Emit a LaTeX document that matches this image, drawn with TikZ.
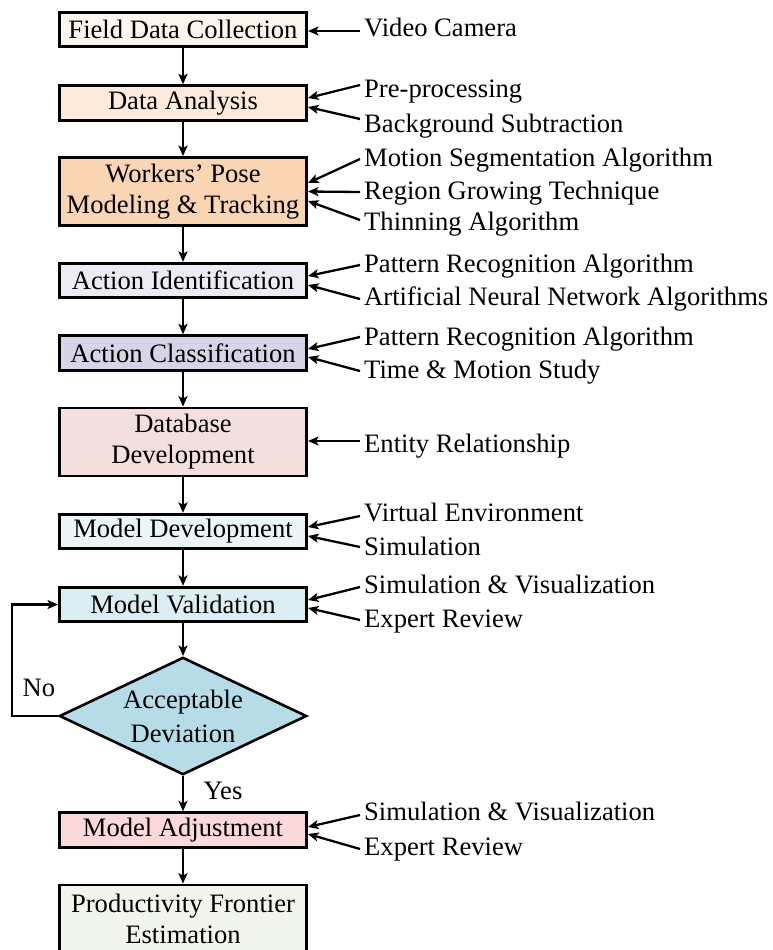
\documentclass[tikz,border=0pt]{standalone}
\usepackage{fontspec}
\setmainfont{Liberation Serif}
\usetikzlibrary{shapes.geometric,arrows.meta}
\newcommand\flowfont{\fontsize{26.6}{31}\selectfont}
\definecolor{cFDC}{HTML}{FDF4EC}
\definecolor{cDA}{HTML}{FDEADB}
\definecolor{cWPM}{HTML}{FAD5B4}
\definecolor{cAI}{HTML}{EEEAF3}
\definecolor{cAC}{HTML}{D8D3E6}
\definecolor{cDB}{HTML}{F3E0DE}
\definecolor{cMD}{HTML}{EBF5F8}
\definecolor{cMV}{HTML}{DBEEF3}
\definecolor{cDEV}{HTML}{B6DDE7}
\definecolor{cMA}{HTML}{FBD9D9}
\definecolor{cPF}{HTML}{F2F5EC}
\begin{document}
\begin{tikzpicture}[x=1pt,y=-1pt,
  box/.style={draw, line width=2.8pt, minimum width=247.2pt, minimum height=34.5pt,
    inner sep=0pt, align=center, font=\flowfont},
  tallbox/.style={box, minimum height=68pt},
  decision/.style={draw, diamond, line width=2.6pt, minimum width=247.4pt, minimum height=117.4pt,
    inner sep=0pt, fill=cDEV},
  src/.style={anchor=base west, inner xsep=4pt, inner ysep=0pt, font=\flowfont},
  tag/.style={inner sep=0pt, font=\flowfont},
  arr/.style={-{Stealth[length=10.5pt,width=9pt,inset=2.5pt]}, line width=2.3pt}]
\clip (0,0) rectangle (773,950);

% main process chain
\node[box, fill=cFDC] (fdc) at (183,29.5) {Field Data Collection};
\node[box, fill=cDA] (da) at (183,103) {Data Analysis};
\node[tallbox, fill=cWPM] (wpm) at (183,191.5) {Workers’ Pose\\Modeling \& Tracking};
\node[box, fill=cAI] (ai) at (183,280.5) {Action Identification};
\node[box, fill=cAC] (ac) at (183,353) {Action Classification};
\node[tallbox, fill=cDB] (db) at (183,442) {Database\\Development};
\node[box, fill=cMD] (md) at (183,531.5) {Model Development};
\node[box, fill=cMV] (mv) at (183,604.5) {Model Validation};
\node[decision, label={[font=\fontsize{26.6}{34}\selectfont, align=center, inner sep=0pt]center:Acceptable\\Deviation}] (dev) at (183,716) {};
\node[box, fill=cMA] (ma) at (183,830) {Model Adjustment};
\node[tallbox, fill=cPF] (pf) at (183,919) {Productivity Frontier\\Estimation};

\draw[arr] (fdc.south) -- (da.north);
\draw[arr] (da.south) -- (wpm.north);
\draw[arr] (wpm.south) -- (ai.north);
\draw[arr] (ai.south) -- (ac.north);
\draw[arr] (ac.south) -- (db.north);
\draw[arr] (db.south) -- (md.north);
\draw[arr] (md.south) -- (mv.north);
\draw[arr] (mv.south) -- (dev.north);
\draw[arr] (dev.south) -- (ma.north);
\draw[arr] (ma.south) -- (pf.north);

% feedback loop
\draw[arr] (dev.west) -- ++(-46,0) |- (mv.west);
\node[tag] (no) at (39,688) {No};
\node[tag] (yes) at (223,791) {Yes};

% inputs on the right
\node[src] (vid) at (360,37) {Video Camera};
\node[src] (pre) at (360,97) {Pre-processing};
\node[src] (bgs) at (360,132) {Background Subtraction};
\node[src] (msa) at (360,166) {Motion Segmentation Algorithm};
\node[src] (rgt) at (360,199) {Region Growing Technique};
\node[src] (thn) at (360,230) {Thinning Algorithm};
\node[src] (pra) at (360,272) {Pattern Recognition Algorithm};
\node[src] (ann) at (360,305) {Artificial Neural Network Algorithms};
\node[src] (prb) at (360,345) {Pattern Recognition Algorithm};
\node[src] (tms) at (360,378) {Time \& Motion Study};
\node[src] (erd) at (360,452) {Entity Relationship};
\node[src] (ven) at (360,521) {Virtual Environment};
\node[src] (sim) at (360,555) {Simulation};
\node[src] (sva) at (360,593) {Simulation \& Visualization};
\node[src] (exa) at (360,627) {Expert Review};
\node[src] (svb) at (360,820) {Simulation \& Visualization};
\node[src] (exb) at (360,855) {Expert Review};

\draw[arr] ([yshift=6]vid.base west) -- ([yshift=-1.5]fdc.east);
\draw[arr] ([yshift=12]pre.base west) -- ([yshift=5]da.east);
\draw[arr] ([yshift=13]bgs.base west) -- ([yshift=-4]da.east);
\draw[arr] ([yshift=7]msa.base west) -- ([yshift=8.5]wpm.east);
\draw[arr] ([yshift=7]rgt.base west) -- ([yshift=0]wpm.east);
\draw[arr] ([yshift=10]thn.base west) -- ([yshift=-9.5]wpm.east);
\draw[arr] ([yshift=7]pra.base west) -- ([yshift=4.5]ai.east);
\draw[arr] ([yshift=6]ann.base west) -- ([yshift=-4.5]ai.east);
\draw[arr] ([yshift=8]prb.base west) -- ([yshift=4]ac.east);
\draw[arr] ([yshift=7]tms.base west) -- ([yshift=-4]ac.east);
\draw[arr] ([yshift=11]erd.base west) -- ([yshift=1]db.east);
\draw[arr] ([yshift=5]ven.base west) -- ([yshift=4.5]md.east);
\draw[arr] ([yshift=8]sim.base west) -- ([yshift=-4.5]md.east);
\draw[arr] ([yshift=6]sva.base west) -- ([yshift=4.5]mv.east);
\draw[arr] ([yshift=7]exa.base west) -- ([yshift=-3.5]mv.east);
\draw[arr] ([yshift=5]svb.base west) -- ([yshift=3]ma.east);
\draw[arr] ([yshift=6]exb.base west) -- ([yshift=-4]ma.east);
\end{tikzpicture}
\end{document}
